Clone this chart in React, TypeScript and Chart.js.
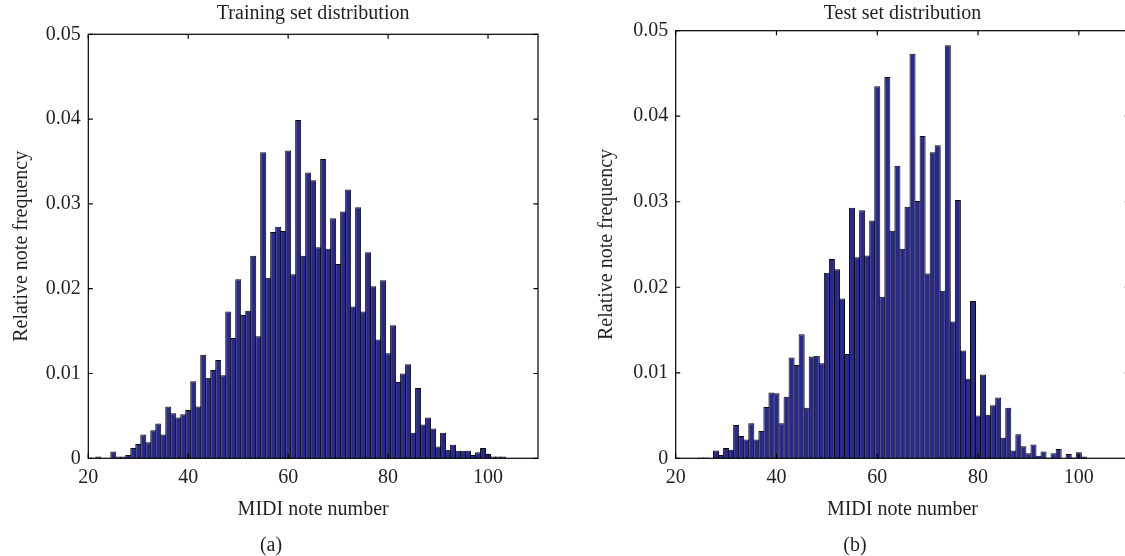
import React, { useEffect, useRef } from "react";
import { Chart, registerables } from "chart.js";

Chart.register(...registerables);

// ---------- Data ----------
const trainNotes = [22, 25, 26, 27, 28, 29, 30, 31, 32, 33, 34, 35, 36, 37, 38, 39, 40, 41, 42, 43, 44, 45, 46, 47, 48, 49, 50, 51, 52, 53, 54, 55, 56, 57, 58, 59, 60, 61, 62, 63, 64, 65, 66, 67, 68, 69, 70, 71, 72, 73, 74, 75, 76, 77, 78, 79, 80, 81, 82, 83, 84, 85, 86, 87, 88, 89, 90, 91, 92, 93, 94, 95, 96, 97, 98, 99, 100, 101, 102, 103];
const trainFreq = [0.0002, 0.0008, 0.0002, 0.0002, 0.0004, 0.0012, 0.0017, 0.0028, 0.0019, 0.0033, 0.0041, 0.0028, 0.0061, 0.0053, 0.0048, 0.0052, 0.0057, 0.0091, 0.0061, 0.0122, 0.0095, 0.0104, 0.0116, 0.0098, 0.0173, 0.0142, 0.0211, 0.0169, 0.0174, 0.0239, 0.0144, 0.0361, 0.0213, 0.0267, 0.0273, 0.0268, 0.0363, 0.0217, 0.0399, 0.0239, 0.0337, 0.0328, 0.0249, 0.0353, 0.0247, 0.0283, 0.0229, 0.0291, 0.0317, 0.0179, 0.0296, 0.0173, 0.0243, 0.0203, 0.0140, 0.0210, 0.0124, 0.0157, 0.0090, 0.0100, 0.0111, 0.0030, 0.0083, 0.0040, 0.0048, 0.0035, 0.0014, 0.0030, 0.0010, 0.0016, 0.0009, 0.0009, 0.0009, 0.0004, 0.0007, 0.0012, 0.0005, 0.0002, 0.0002, 0.0002];

const testNotes = [25, 26, 28, 29, 30, 31, 32, 33, 34, 35, 36, 37, 38, 39, 40, 41, 42, 43, 44, 45, 46, 47, 48, 49, 50, 51, 52, 53, 54, 55, 56, 57, 58, 59, 60, 61, 62, 63, 64, 65, 66, 67, 68, 69, 70, 71, 72, 73, 74, 75, 76, 77, 78, 79, 80, 81, 82, 83, 84, 85, 86, 87, 88, 89, 90, 91, 92, 93, 94, 95, 96, 98, 99, 100, 101];
const testFreq = [0.0001, 0.0001, 0.0009, 0.0004, 0.0012, 0.0010, 0.0039, 0.0026, 0.0022, 0.0041, 0.0022, 0.0032, 0.0060, 0.0077, 0.0076, 0.0041, 0.0072, 0.0118, 0.0109, 0.0145, 0.0059, 0.0119, 0.0120, 0.0111, 0.0217, 0.0233, 0.0221, 0.0187, 0.0122, 0.0293, 0.0235, 0.0290, 0.0237, 0.0278, 0.0435, 0.0189, 0.0446, 0.0266, 0.0342, 0.0245, 0.0294, 0.0473, 0.0301, 0.0377, 0.0216, 0.0358, 0.0366, 0.0196, 0.0483, 0.0160, 0.0302, 0.0126, 0.0093, 0.0184, 0.0050, 0.0098, 0.0051, 0.0062, 0.0071, 0.0024, 0.0059, 0.0009, 0.0028, 0.0014, 0.0006, 0.0016, 0.0003, 0.0008, 0.0001, 0.0006, 0.0011, 0.0005, 0.0001, 0.0007, 0.0002];

const xTicks = [20, 40, 60, 80, 100];
const yTicks = [0, 0.01, 0.02, 0.03, 0.04, 0.05];

const FONT = "'Liberation Serif', 'Times New Roman', serif";
const TEXT = "#231f20";
const BAR_FILL = "#28298a";
const BAR_EDGE = "#0a0a0a";

const boxPlugin = {
  id: "matlabBox",
  afterDatasetsDraw(chart: any) {
    const { ctx, chartArea } = chart;
    const { left, right, top, bottom } = chartArea;
    const x = chart.scales.x;
    const y = chart.scales.y;
    const tl = 4.5;
    ctx.save();
    ctx.strokeStyle = "#000";
    ctx.lineWidth = 1.2;
    ctx.strokeRect(left, top, right - left, bottom - top);
    ctx.beginPath();
    x.ticks.forEach((t: any) => {
      const px = x.getPixelForValue(t.value);
      ctx.moveTo(px, bottom);
      ctx.lineTo(px, bottom - tl);
      ctx.moveTo(px, top);
      ctx.lineTo(px, top + tl);
    });
    y.ticks.forEach((t: any) => {
      const py = y.getPixelForValue(t.value);
      ctx.moveTo(left, py);
      ctx.lineTo(left + tl, py);
      ctx.moveTo(right, py);
      ctx.lineTo(right - tl, py);
    });
    ctx.stroke();
    ctx.restore();
  },
};

type Layout = {
  title: string;
  notes: number[];
  freq: number[];
  yWidth: number;
  yTitlePad: number;
  padRight: number;
  titleTop: number;
  titleBottom: number;
};

function makeConfig(l: Layout): any {
  return {
    type: "bar",
    data: {
      datasets: [
        {
          data: l.notes.map((n, i) => ({ x: n, y: l.freq[i] })),
          backgroundColor: BAR_FILL,
          borderColor: BAR_EDGE,
          borderWidth: 1,
          borderSkipped: "start",
          barPercentage: 1.2,
          categoryPercentage: 1,
        },
      ],
    },
    options: {
      responsive: false,
      animation: false,
      layout: { padding: { left: 0, right: l.padRight, top: 0, bottom: 0 } },
      plugins: {
        legend: { display: false },
        tooltip: { enabled: false },
        title: {
          display: true,
          text: l.title,
          fullSize: false,
          color: TEXT,
          font: { family: FONT, size: 20, weight: "normal" },
          padding: { top: l.titleTop, bottom: l.titleBottom },
        },
      },
      scales: {
        x: {
          type: "linear",
          min: 20,
          max: 110,
          offset: false,
          grid: { display: false, drawTicks: false },
          border: { display: false },
          afterBuildTicks: (s: any) => {
            s.ticks = xTicks.map((v) => ({ value: v }));
          },
          afterFit: (s: any) => {
            s.height = 97.7;
          },
          ticks: {
            color: TEXT,
            font: { family: FONT, size: 20 },
            padding: 7,
            maxRotation: 0,
            autoSkip: false,
            callback: (v: any) => String(v),
          },
          title: {
            display: true,
            text: "MIDI note number",
            color: TEXT,
            font: { family: FONT, size: 20 },
            padding: { top: 0, bottom: 34 },
          },
        },
        y: {
          type: "linear",
          min: 0,
          max: 0.05,
          grid: { display: false, drawTicks: false },
          border: { display: false },
          afterBuildTicks: (s: any) => {
            s.ticks = yTicks.map((v) => ({ value: v }));
          },
          afterFit: (s: any) => {
            s.width = l.yWidth;
          },
          ticks: {
            color: TEXT,
            font: { family: FONT, size: 20 },
            padding: 7.5,
            autoSkip: false,
            callback: (v: any) => (v === 0 ? "0" : Number(v).toFixed(2)),
          },
          title: {
            display: true,
            text: "Relative note frequency",
            color: TEXT,
            font: { family: FONT, size: 20 },
            padding: { top: l.yTitlePad, bottom: 0 },
          },
        },
      },
    },
    plugins: [boxPlugin],
  };
}

function Panel(props: { layout: Layout; left: number }) {
  const ref = useRef<HTMLCanvasElement | null>(null);
  useEffect(() => {
    if (!ref.current) return;
    const chart = new Chart(ref.current, makeConfig(props.layout));
    return () => chart.destroy();
  }, []);
  return (
    <canvas
      ref={ref}
      width={560}
      height={556}
      style={{ position: "absolute", left: props.left, top: 0, width: 560, height: 556 }}
    />
  );
}

const leftLayout: Layout = {
  title: "Training set distribution",
  notes: trainNotes,
  freq: trainFreq,
  yWidth: 88.3,
  yTitlePad: 9.7,
  padRight: 22,
  titleTop: 2,
  titleBottom: 8.3,
};

const rightLayout: Layout = {
  title: "Test set distribution",
  notes: testNotes,
  freq: testFreq,
  yWidth: 95.7,
  yTitlePad: 14.7,
  padRight: 10.8,
  titleTop: 2,
  titleBottom: 4.7,
};

export default function App() {
  const labelStyle: React.CSSProperties = {
    position: "absolute",
    top: 534,
    width: 60,
    marginLeft: -30,
    textAlign: "center",
    fontFamily: FONT,
    fontSize: 20,
    lineHeight: "20px",
    color: TEXT,
  };
  return (
    <div
      style={{
        position: "fixed",
        left: 0,
        top: 0,
        width: 1125,
        height: 556,
        overflow: "hidden",
        background: "#fff",
      }}
    >
      <Panel layout={leftLayout} left={0} />
      <Panel layout={rightLayout} left={580} />
      <div style={{ ...labelStyle, left: 271 }}>(a)</div>
      <div style={{ ...labelStyle, left: 855 }}>(b)</div>
    </div>
  );
}
